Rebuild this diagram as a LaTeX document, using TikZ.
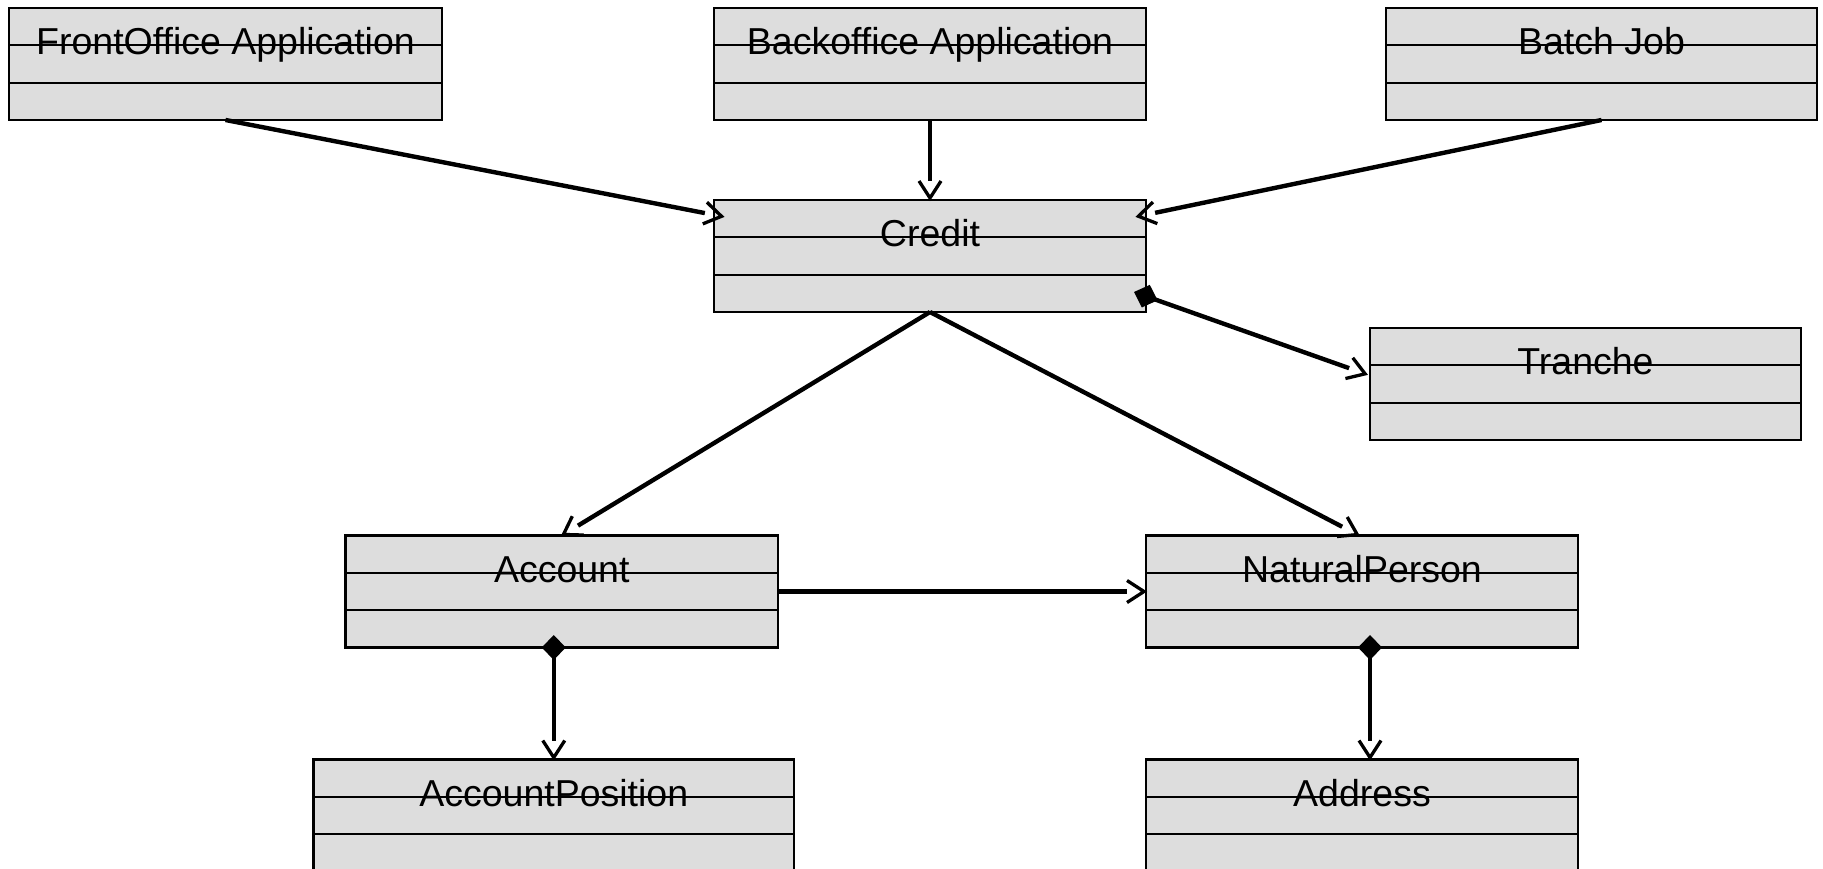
\documentclass[tikz,border=0pt]{standalone}
\usepackage{fontspec}
\setmainfont{Liberation Sans}
\usetikzlibrary{arrows.meta,calc}

\definecolor{boxgray}{RGB}{221,221,221}
\newcommand{\classfont}{\fontsize{37.5}{44}\selectfont}

% Open UML navigation head: the shaft stops at the back of the V
\pgfdeclarearrow{
  name = UMLVee,
  parameters = {\the\pgfarrowlength,\the\pgfarrowwidth,\the\pgfarrowlinewidth},
  setup code = {
    \pgfarrowssettipend{0pt}
    \pgfarrowssetbackend{-\pgfarrowlength}
    \pgfarrowssetlineend{-\pgfarrowlength}
    \pgfarrowssetvisualbackend{-\pgfarrowlength}
    \pgfarrowssavethe\pgfarrowlength
    \pgfarrowssavethe\pgfarrowwidth
    \pgfarrowssavethe\pgfarrowlinewidth
  },
  drawing code = {
    \pgfsetdash{}{0pt}
    \pgfsetlinewidth{\pgfarrowlinewidth}
    \pgfsetmiterjoin
    \pgfsetbuttcap
    \pgfpathmoveto{\pgfqpoint{-\pgfarrowlength}{.5\pgfarrowwidth}}
    \pgfpathlineto{\pgfqpoint{-2pt}{0pt}}
    \pgfpathlineto{\pgfqpoint{-\pgfarrowlength}{-.5\pgfarrowwidth}}
    \pgfusepathqstroke
  },
  defaults = {length=19pt, width=22pt, line width=3.3pt}
}

\begin{document}
\begin{tikzpicture}[x=1pt,y=-1pt,
  umlclass/.style={draw, line width=2.2pt, fill=boxgray, rectangle,
    inner sep=0pt, outer sep=0pt, minimum height=112pt, anchor=north west,
    font=\classfont, text height=0pt, text depth=18.6pt,
    path picture={
      \draw[line width=2.2pt]
        ([yshift=-37.33pt]path picture bounding box.north west) --
        ([yshift=-37.33pt]path picture bounding box.north east);
      \draw[line width=2.2pt]
        ([yshift=-74.67pt]path picture bounding box.north west) --
        ([yshift=-74.67pt]path picture bounding box.north east);
    }},
  conn/.style={line width=4.4pt, -{UMLVee}},
  comp/.style={line width=4.4pt, {Diamond[length=25pt,width=24pt,line width=0pt]}-{UMLVee}}
]
\useasboundingbox (0,0) rectangle (1823,869);
\clip (0,0) rectangle (1823,869);

% classes
\node[umlclass, minimum width=433pt] (fo) at (9,8) {FrontOffice Application};
\node[umlclass, minimum width=432pt] (bo) at (714,8) {Backoffice Application};
\node[umlclass, minimum width=431pt] (bj) at (1386,8) {Batch Job};
\node[umlclass, minimum width=432pt] (credit) at (714,200) {Credit};
\node[umlclass, minimum width=431pt] (tranche) at (1370,328) {Tranche};
\node[umlclass, minimum width=432.5pt] (account) at (345.5,535.5) {Account};
\node[umlclass, minimum width=432pt] (np) at (1146,535.5) {NaturalPerson};
\node[umlclass, minimum width=480.5pt] (ap) at (313.5,759.5) {AccountPosition};
\node[umlclass, minimum width=432pt] (address) at (1146,759.5) {Address};

% attachment points
\coordinate (foTip) at ($(credit.north west)+(9.5,16.7)$);
\coordinate (bjTip) at ($(credit.north east)+(-9.5,16.7)$);
\coordinate (trStart) at ($(credit.south east)+(-12,-20)$);
\coordinate (trTip) at ($(tranche.west)+(-3,-9.5)$);
\coordinate (npTip) at ($(np.north)+(-3,0)$);
\coordinate (acBottom) at (account.south -| ap.north);
\coordinate (acStart) at ($(acBottom)+(0,-12.5)$);
\coordinate (npStart) at ($(np.south)+(8,-12.5)$);
\coordinate (adTip) at ($(address.north)+(8,0)$);

% associations
\draw[conn] (fo.south) -- (foTip);
\draw[conn] (bo.south) -- (credit.north);
\draw[conn] (bj.south) -- (bjTip);
\draw[conn] (credit.south) -- (account.north);
\draw[conn] (credit.south) -- (npTip);
\draw[conn] (account.east) -- (np.west);

% compositions
\draw[comp] (trStart) -- (trTip);
\draw[comp] (acStart) -- (ap.north);
\draw[comp] (npStart) -- (adTip);
\end{tikzpicture}
\end{document}
